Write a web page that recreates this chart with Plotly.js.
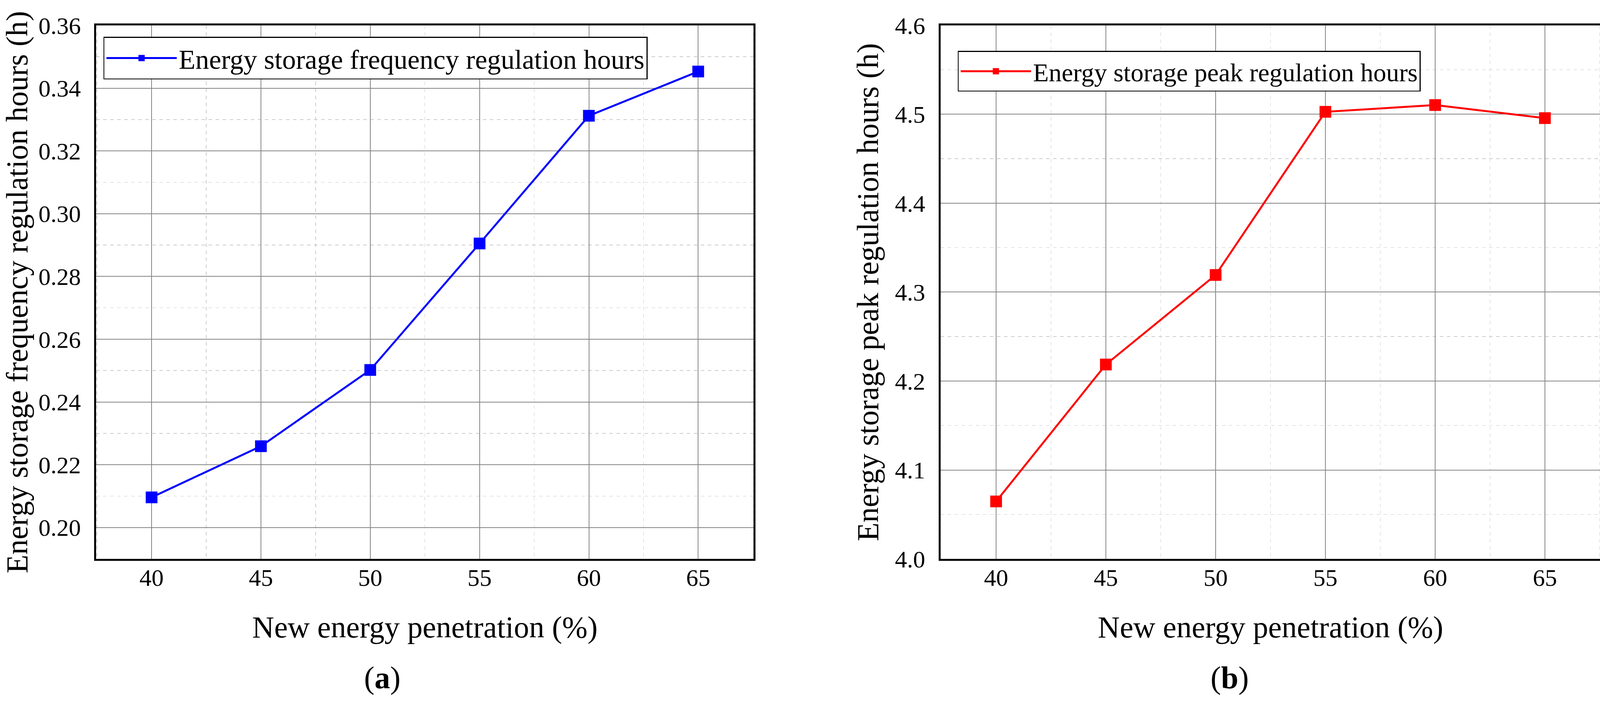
<!DOCTYPE html>
<html>
<head>
<meta charset="utf-8">
<script src="https://cdn.plot.ly/plotly-3.0.1.min.js"></script>
<style>html,body{margin:0;padding:0;background:#fff;}</style>
</head>
<body>
<div id="chart" style="width:4121px;height:1809px;"></div>
<script>
// ---- data ----
const penetration = [40, 45, 50, 55, 60, 65];
const freqHours = [0.2096, 0.2259, 0.2502, 0.2905, 0.3312, 0.3453];
const peakHours = [4.0646, 4.2186, 4.3193, 4.5028, 4.5104, 4.4957];
const freqName = 'Energy storage frequency regulation hours';
const peakName = 'Energy storage peak regulation hours';
const xTitle = 'New energy penetration (%)';
const yTitleA = 'Energy storage frequency regulation hours (h)';
const yTitleB = 'Energy storage peak regulation hours (h)';
const panelLabels = ['(<b>a</b>)', '(<b>b</b>)'];

const FONT = 'Liberation Serif, Times New Roman, serif';

const traces = [
  {
    x: penetration, y: freqHours, name: freqName, type: 'scatter', mode: 'lines+markers',
    line: {color: '#0000FF', width: 5},
    marker: {symbol: 'square', size: 30, color: '#0000FF'},
    xaxis: 'x', yaxis: 'y', legend: 'legend'
  },
  {
    x: penetration, y: peakHours, name: peakName, type: 'scatter', mode: 'lines+markers',
    line: {color: '#FF0000', width: 5},
    marker: {symbol: 'square', size: 30, color: '#FF0000'},
    xaxis: 'x2', yaxis: 'y2', legend: 'legend2'
  }
];

function xAxis(domain, anchor) {
  return {
    domain: domain, anchor: anchor, range: [37.47, 67.53],
    tick0: 40, dtick: 5, tickmode: 'linear',
    showgrid: true, gridcolor: '#858585', gridwidth: 2,
    minor: {dtick: 2.5, tick0: 40, showgrid: true, gridcolor: '#cccccc', gridwidth: 1.5, griddash: 'dash'},
    showline: true, mirror: true, linecolor: 'black', linewidth: 5,
    ticks: '', ticklabelstandoff: -10,
    tickfont: {family: FONT, size: 62, color: 'black'},
    title: {text: xTitle, font: {family: FONT, size: 78, color: 'black'}, standoff: 66},
    zeroline: false, fixedrange: true
  };
}
function yAxis(domain, anchor, range, t0, dtick, mdtick, fmt, title) {
  return {
    domain: domain, anchor: anchor, range: range,
    tick0: t0, dtick: dtick, tickmode: 'linear', tickformat: fmt,
    showgrid: true, gridcolor: '#858585', gridwidth: 2,
    minor: {dtick: mdtick, showgrid: true, gridcolor: '#cccccc', gridwidth: 1.5, griddash: 'dash'},
    showline: true, mirror: true, linecolor: 'black', linewidth: 5,
    ticks: 'outside', ticklen: 22, tickcolor: 'rgba(0,0,0,0)',
    tickfont: {family: FONT, size: 62, color: 'black'},
    title: {text: title, font: {family: FONT, size: 78, color: 'black'}, standoff: 18},
    zeroline: false, fixedrange: true
  };
}

const layout = {
  width: 4121, height: 1809,
  margin: {l: 0, r: 0, t: 0, b: 0},
  paper_bgcolor: 'white', plot_bgcolor: 'white',
  showlegend: true,
  xaxis: xAxis([0.0598, 0.4681], 'y'),
  yaxis: yAxis([0.2095, 0.9641], 'x', [0.19, 0.36], 0.2, 0.02, 0.01, '.2f', yTitleA),
  xaxis2: xAxis([0.5843, 0.9942], 'y2'),
  yaxis2: yAxis([0.2095, 0.9641], 'x2', [4.0, 4.6], 4.0, 0.1, 0.05, '.1f', yTitleB),
  legend: {
    x: 0.0643, y: 0.948, xanchor: 'left', yanchor: 'top',
    bgcolor: 'white', bordercolor: 'black', borderwidth: 2.5,
    font: {family: FONT, size: 70, color: 'black'}, itemwidth: 180
  },
  legend2: {
    x: 0.595, y: 0.928, xanchor: 'left', yanchor: 'top',
    bgcolor: 'white', bordercolor: 'black', borderwidth: 2.5,
    font: {family: FONT, size: 66, color: 'black'}, itemwidth: 180
  },
  annotations: [
    {text: panelLabels[0], xref: 'paper', yref: 'paper', x: 0.2374, y: 0.041, xanchor: 'center', yanchor: 'middle', showarrow: false, font: {family: FONT, size: 80, color: 'black'}},
    {text: panelLabels[1], xref: 'paper', yref: 'paper', x: 0.764, y: 0.041, xanchor: 'center', yanchor: 'middle', showarrow: false, font: {family: FONT, size: 80, color: 'black'}}
  ]
};

Plotly.newPlot('chart', traces, layout, {displayModeBar: false, staticPlot: true});
</script>
</body>
</html>
